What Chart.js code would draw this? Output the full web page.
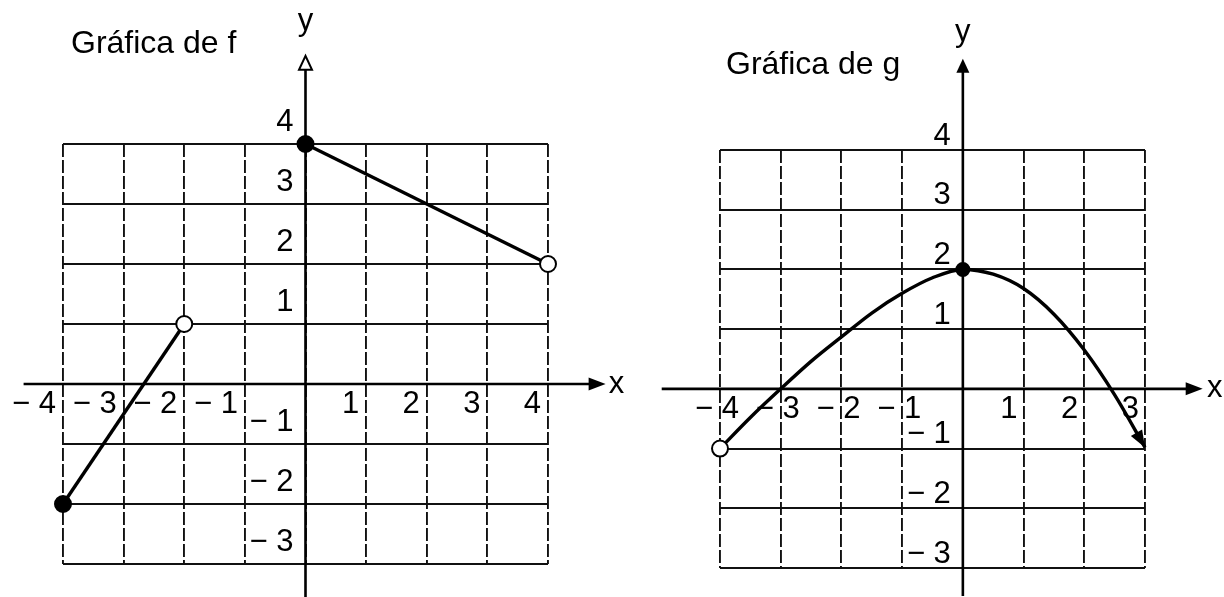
<!DOCTYPE html>
<html>
<head>
<meta charset="utf-8">
<title>Gráfica de f y g</title>
<script src="https://cdn.jsdelivr.net/npm/chart.js@4.4.1/dist/chart.umd.min.js"></script>
<style>
    body { margin: 0; background: #fff; }
    .panel { position: absolute; top: 0; }
    #panelF { left: 0; }
    #panelG { left: 640px; }
</style>
</head>
<body>
<div class="panel" id="panelF"><canvas id="chartF" width="640" height="597"></canvas></div>
<div class="panel" id="panelG"><canvas id="chartG" width="584" height="597"></canvas></div>

<script>
    // ---- datos ----
    // f: dos tramos rectos (true = punto lleno, false = punto vacío)
    const fTramo1X = [-4, -2];
    const fTramo1Y = [-2, 1];
    const fTramo1Cerrado = [true, false];
    const fTramo2X = [0, 4];
    const fTramo2Y = [4, 2];
    const fTramo2Cerrado = [true, false];

    // g: curva leída punto a punto
    const gX = [-4, -3.5, -3, -2.5, -2, -1.5, -1, -0.5, 0, 0.5, 1, 1.5, 2, 2.5, 3];
    const gY = [-1, -0.48, 0, 0.46, 0.87, 1.27, 1.6, 1.86, 2, 1.92, 1.68, 1.25, 0.65, -0.1, -0.98];
    const gMarcas = {0: 'vacio', 8: 'lleno'};

    // etiquetas de los ejes
    const fTicksX = [-4, -3, -2, -1, 1, 2, 3, 4];
    const fTicksY = [-3, -2, -1, 1, 2, 3, 4];
    const gTicksX = [-4, -3, -2, -1, 1, 2, 3];
    const gTicksY = [-3, -2, -1, 1, 2, 3, 4];

    const FUENTE = '"Liberation Sans", Arial, sans-serif';

    function puntos(xs, ys) {
        return xs.map((x, i) => ({x: x, y: ys[i]}));
    }

    function etiqueta(v) {
        return v < 0 ? '\u2212 ' + (-v) : String(v);
    }

    function flecha(ctx, x, y, ang, largo, hueca) {
        const W = 6.5;
        ctx.save();
        ctx.translate(x, y);
        ctx.rotate(ang);
        ctx.beginPath();
        ctx.moveTo(0, 0);
        ctx.lineTo(-largo, -W);
        ctx.lineTo(-largo, W);
        ctx.closePath();
        if (hueca) {
            ctx.fillStyle = '#fff';
            ctx.fill();
            ctx.lineWidth = 2;
            ctx.strokeStyle = '#000';
            ctx.stroke();
        } else {
            ctx.fillStyle = '#000';
            ctx.fill();
        }
        ctx.restore();
    }

    // ejes, flechas, textos
    const decor = {
        id: 'decor',
        beforeDatasetsDraw(chart, args, o) {
            const ctx = chart.ctx, xs = chart.scales.x, ys = chart.scales.y;
            const x0 = xs.getPixelForValue(0), y0 = ys.getPixelForValue(0);
            const xa = xs.getPixelForValue(o.ejeX[0]), xb = xs.getPixelForValue(o.ejeX[1]);
            const ya = ys.getPixelForValue(o.ejeY[0]), yb = ys.getPixelForValue(o.ejeY[1]);
            ctx.save();
            ctx.strokeStyle = '#000';
            ctx.lineWidth = 2.6;
            ctx.beginPath();
            ctx.moveTo(xa, y0);
            ctx.lineTo(xb - 10, y0);
            ctx.moveTo(x0, ya);
            ctx.lineTo(x0, yb + 10);
            ctx.stroke();
            flecha(ctx, xb, y0, 0, 17, false);
            flecha(ctx, x0, yb, -Math.PI / 2, 14, o.flechaYHueca);
            ctx.restore();
        },
        afterDatasetsDraw(chart, args, o) {
            const ctx = chart.ctx, xs = chart.scales.x, ys = chart.scales.y;
            const x0 = xs.getPixelForValue(0), y0 = ys.getPixelForValue(0);
            ctx.save();
            if (o.flechaCurva) {
                const d = chart.data.datasets[0].data;
                const p1 = d[d.length - 2], p2 = d[d.length - 1];
                const ax = xs.getPixelForValue(p1.x), ay = ys.getPixelForValue(p1.y);
                const bx = xs.getPixelForValue(p2.x), by = ys.getPixelForValue(p2.y);
                flecha(ctx, bx, by, Math.atan2(by - ay, bx - ax), 17, false);
            }
            ctx.fillStyle = '#000';
            ctx.font = '31px ' + FUENTE;
            ctx.textBaseline = 'middle';
            ctx.textAlign = 'right';
            o.ticksX.forEach(v => {
                const dx = v < 0 ? o.dxNeg : o.dxPos;
                ctx.fillText(etiqueta(v), xs.getPixelForValue(v) + dx, y0 + o.dyX);
            });
            o.ticksY.forEach(v => {
                ctx.fillText(etiqueta(v), x0 + o.dxY, ys.getPixelForValue(v) + o.dyY);
            });
            ctx.textAlign = 'center';
            ctx.fillText('x', xs.getPixelForValue(o.nombreX), y0);
            ctx.textBaseline = 'alphabetic';
            ctx.fillText('y', x0, ys.getPixelForValue(o.nombreY));
            ctx.textAlign = 'left';
            ctx.font = '32px ' + FUENTE;
            ctx.fillText(o.titulo, chart.chartArea.left + o.tituloDx, o.tituloY);
            ctx.restore();
        }
    };

    function escalas(xmin, xmax, ymin, ymax) {
        return {
            x: {
                type: 'linear', min: xmin, max: xmax,
                ticks: {display: false, stepSize: 1},
                grid: {color: '#111', lineWidth: 1.9, drawTicks: false},
                border: {display: false, dash: [13, 3]}
            },
            y: {
                type: 'linear', min: ymin, max: ymax,
                ticks: {display: false, stepSize: 1},
                grid: {color: '#111', lineWidth: 2, drawTicks: false},
                border: {display: false}
            }
        };
    }

    function tramo(xs, ys, cerrado) {
        return {
            data: puntos(xs, ys),
            showLine: true,
            borderColor: '#000',
            borderWidth: 3.4,
            pointRadius: 8,
            pointBorderWidth: 2,
            pointBorderColor: '#000',
            pointBackgroundColor: cerrado.map(c => c ? '#000' : '#fff'),
            clip: false
        };
    }

    new Chart(document.getElementById('chartF'), {
        type: 'scatter',
        data: {
            datasets: [tramo(fTramo1X, fTramo1Y, fTramo1Cerrado), tramo(fTramo2X, fTramo2Y, fTramo2Cerrado)]
        },
        options: {
            responsive: false,
            animation: false,
            events: [],
            layout: {padding: {left: 63, right: 92, top: 144, bottom: 33}},
            scales: escalas(-4, 4, -3, 4),
            plugins: {
                legend: {display: false},
                tooltip: {enabled: false},
                decor: {
                    titulo: 'Gráfica de f', tituloDx: 8, tituloY: 53,
                    ejeX: [-4.65, 4.95], ejeY: [-3.55, 5.47], flechaYHueca: true,
                    nombreX: 5.13, nombreY: 5.9,
                    ticksX: fTicksX, ticksY: fTicksY,
                    dxNeg: -7, dxPos: -7, dyX: 20, dxY: -12, dyY: -22
                }
            }
        },
        plugins: [decor]
    });

    new Chart(document.getElementById('chartG'), {
        type: 'scatter',
        data: {
            datasets: [{
                data: puntos(gX, gY),
                showLine: true,
                cubicInterpolationMode: 'monotone',
                borderColor: '#000',
                borderWidth: 3.4,
                pointRadius: gX.map((_, i) => gMarcas[i] === 'vacio' ? 8 : (gMarcas[i] ? 6.5 : 0)),
                pointBorderWidth: 2,
                pointBorderColor: '#000',
                pointBackgroundColor: gX.map((_, i) => gMarcas[i] === 'vacio' ? '#fff' : '#000'),
                clip: false
            }]
        },
        options: {
            responsive: false,
            animation: false,
            events: [],
            layout: {padding: {left: 80, right: 79, top: 150, bottom: 29}},
            scales: escalas(-4, 3, -3, 4),
            plugins: {
                legend: {display: false},
                tooltip: {enabled: false},
                decor: {
                    titulo: 'Gráfica de g', tituloDx: 6, tituloY: 74,
                    ejeX: [-4.96, 3.95], ejeY: [-3.47, 5.53], flechaYHueca: false,
                    flechaCurva: true,
                    nombreX: 4.15, nombreY: 5.83,
                    ticksX: gTicksX, ticksY: gTicksY,
                    dxNeg: 19, dxPos: -6, dyX: 21, dxY: -12, dyY: -14
                }
            }
        },
        plugins: [decor]
    });
</script>
</body>
</html>
